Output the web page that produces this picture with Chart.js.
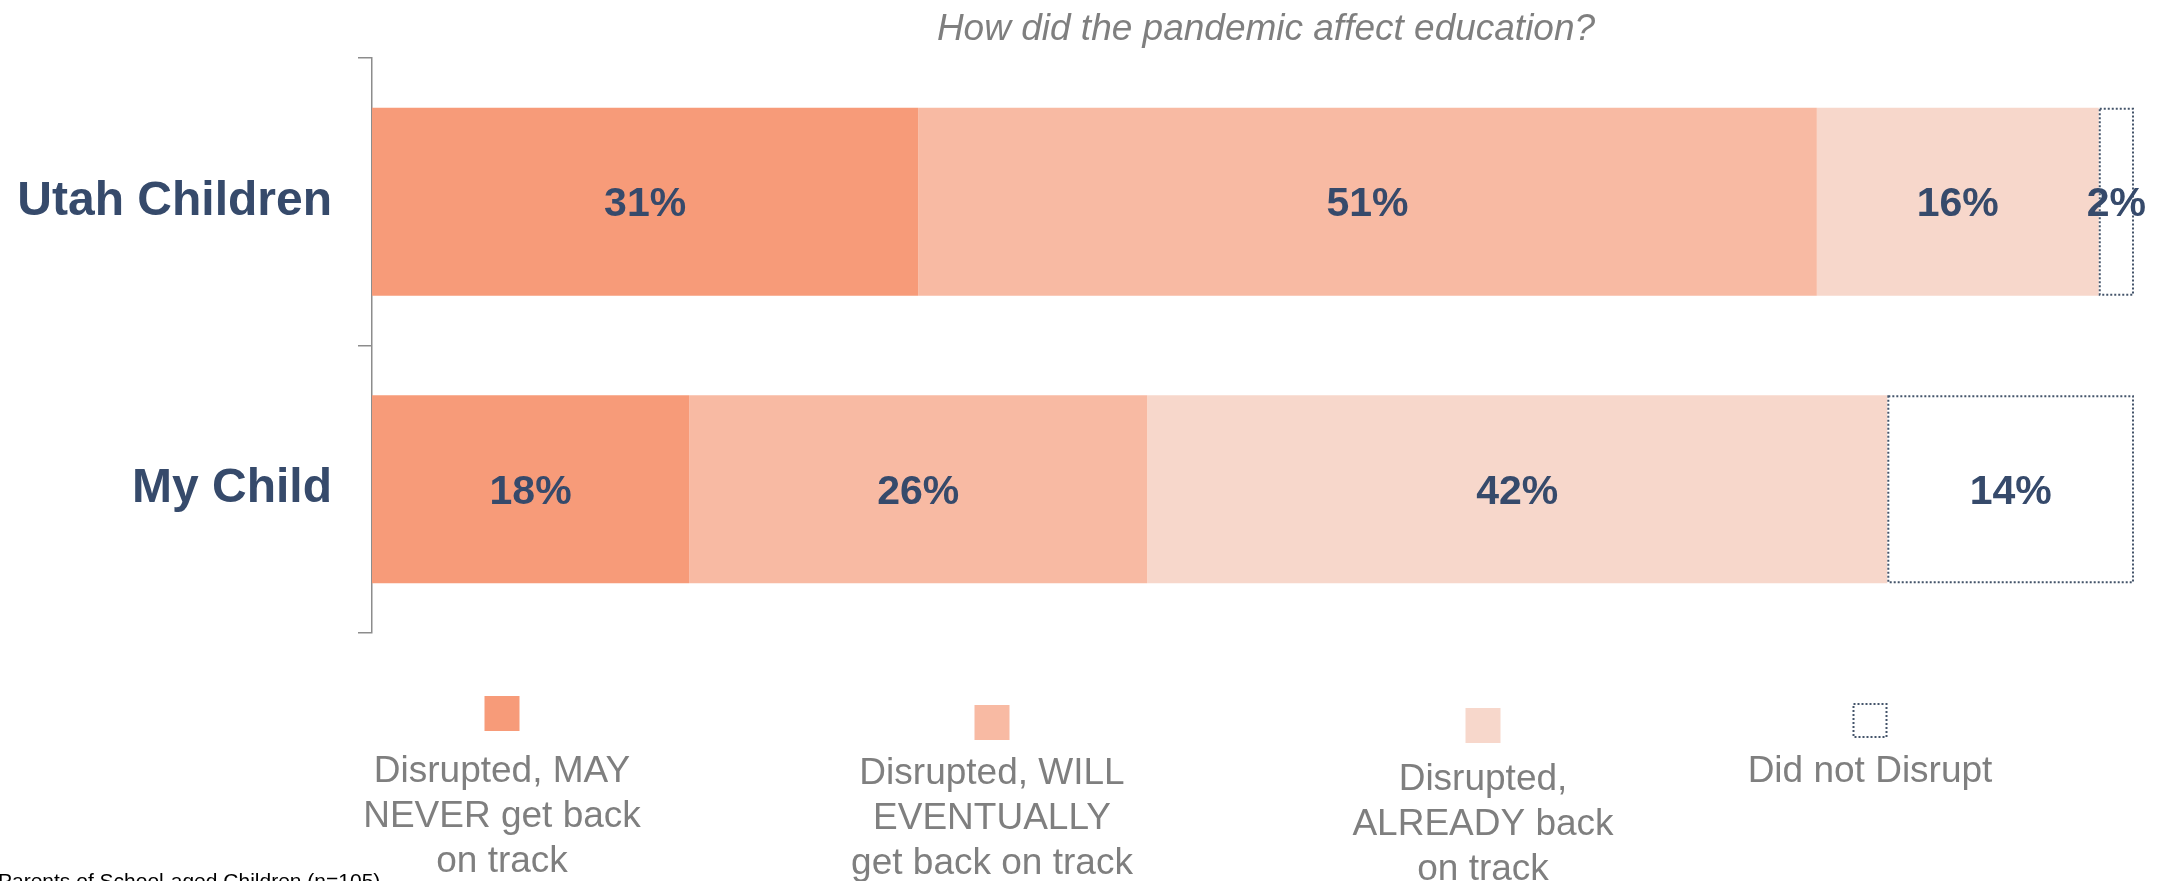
<!DOCTYPE html>
<html>
<head>
<meta charset="utf-8">
<script src="https://cdn.jsdelivr.net/npm/chart.js@4/dist/chart.umd.min.js"></script>
<style>
  html, body { margin: 0; padding: 0; background: #ffffff; }
  #wrap { width: 2167px; height: 881px; position: relative; }
</style>
</head>
<body>
<div id="wrap"><canvas id="c" width="2167" height="881"></canvas></div>
<script>
// ---- data ----
const categories = ["Utah Children", "My Child"];
const mayNever = [31, 18];
const willEventually = [51, 26];
const alreadyBack = [16, 42];
const didNotDisrupt = [2, 14];
const seriesNames = [
  ["Disrupted, MAY", "NEVER get back", "on track"],
  ["Disrupted, WILL", "EVENTUALLY", "get back on track"],
  ["Disrupted,", "ALREADY back", "on track"],
  ["Did not Disrupt"]
];
const chartTitle = "How did the pandemic affect education?";
const footnote = "Parents of School-aged Children (n=105)";

// ---- styles ----
const FONT = "'Liberation Sans', Arial, Helvetica, sans-serif";
const NAVY = "#364A6B";
const GREY = "#7F7F7F";
const AXIS = "#8C8C8C";
const DOT = "#44546A";
const colors = ["#F79B79", "#F8BAA3", "#F7D7CB", "#FFFFFF"];

const allSeries = [mayNever, willEventually, alreadyBack, didNotDisrupt];

const decorPlugin = {
  id: 'decor',
  afterDatasetsDraw(chart) {
    const ctx = chart.ctx;
    // dotted outline for "Did not Disrupt"
    const lastMeta = chart.getDatasetMeta(3);
    ctx.save();
    ctx.strokeStyle = DOT;
    ctx.lineWidth = 2;
    ctx.setLineDash([2, 2]);
    lastMeta.data.forEach(el => {
      const left = Math.min(el.base, el.x), right = Math.max(el.base, el.x);
      const top = el.y - el.height / 2;
      ctx.strokeRect(left + 1, top + 1, right - left - 2, el.height - 2);
    });
    ctx.restore();
    // value labels
    ctx.save();
    ctx.fillStyle = NAVY;
    ctx.font = "bold 41px " + FONT;
    ctx.textAlign = "center";
    ctx.textBaseline = "middle";
    chart.data.datasets.forEach((ds, di) => {
      const meta = chart.getDatasetMeta(di);
      meta.data.forEach((el, i) => {
        const v = ds.data[i];
        ctx.fillText(v + "%", (el.x + el.base) / 2, el.y + 3);
      });
    });
    ctx.restore();
  },
  afterDraw(chart) {
    const ctx = chart.ctx;
    ctx.save();
    // title
    ctx.fillStyle = GREY;
    ctx.font = "italic 37px " + FONT;
    ctx.textAlign = "center";
    ctx.textBaseline = "alphabetic";
    ctx.fillText(chartTitle, 1266, 40);
    // legend
    const cx = [502, 992, 1483, 1870];
    const boxTop = [696, 705, 708, 703];
    const firstBase = [782, 784, 790, 782];
    const box = 35;
    chart.data.datasets.forEach((ds, i) => {
      if (i === 3) {
        ctx.fillStyle = "#ffffff";
        ctx.fillRect(cx[i] - box / 2, boxTop[i], box, box);
        ctx.strokeStyle = DOT;
        ctx.lineWidth = 2;
        ctx.setLineDash([2, 2]);
        ctx.strokeRect(cx[i] - box / 2 + 1, boxTop[i] + 1, box - 2, box - 2);
        ctx.setLineDash([]);
      } else {
        ctx.fillStyle = ds.backgroundColor;
        ctx.fillRect(cx[i] - box / 2, boxTop[i], box, box);
      }
      ctx.fillStyle = GREY;
      ctx.font = "37px " + FONT;
      ctx.textAlign = "center";
      seriesNames[i].forEach((line, k) => {
        ctx.fillText(line, cx[i], firstBase[i] + k * 45);
      });
    });
    // footnote
    ctx.fillStyle = "#000000";
    ctx.font = "21px " + FONT;
    ctx.textAlign = "left";
    ctx.fillText(footnote, -2, 888);
    ctx.restore();
  }
};

new Chart(document.getElementById('c'), {
  type: 'bar',
  data: {
    labels: categories,
    datasets: allSeries.map((d, i) => ({
      label: seriesNames[i].join(' '),
      data: d,
      backgroundColor: colors[i],
      borderWidth: 0,
      barPercentage: 0.654,
      categoryPercentage: 1.0
    }))
  },
  options: {
    responsive: false,
    animation: false,
    indexAxis: 'y',
    layout: { padding: { top: 58, bottom: 248, left: 0, right: 33 } },
    plugins: {
      legend: { display: false },
      title: { display: false },
      tooltip: { enabled: false }
    },
    scales: {
      x: {
        stacked: true,
        min: 0,
        max: 100,
        display: false
      },
      y: {
        stacked: true,
        afterFit(scale) { scale.width = 372; },
        grid: {
          offset: true,
          drawOnChartArea: false,
          drawTicks: true,
          tickLength: 14,
          color: AXIS,
          lineWidth: 1.5
        },
        border: { display: true, color: AXIS, width: 1.5 },
        ticks: {
          color: NAVY,
          padding: 26,
          font: { family: FONT, size: 48, weight: 'bold' }
        }
      }
    }
  },
  plugins: [decorPlugin]
});
</script>
</body>
</html>
